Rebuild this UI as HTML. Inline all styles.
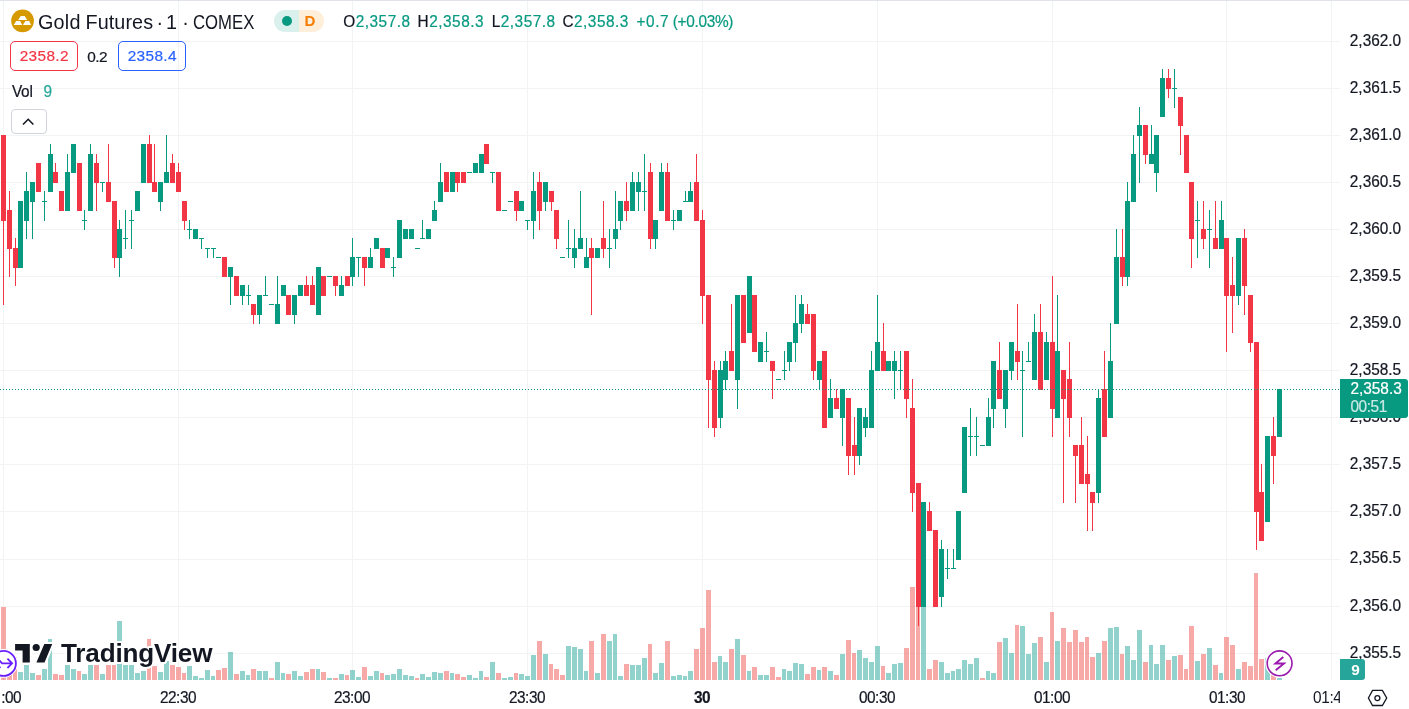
<!DOCTYPE html>
<html><head><meta charset="utf-8"><title>Gold Futures</title>
<style>
html,body{margin:0;padding:0;background:#fff}
body{width:1409px;height:709px;position:relative;overflow:hidden;font-family:"Liberation Sans",sans-serif;color:#131722}
.abs{position:absolute;white-space:nowrap}
.pl,.tl,.oh,.bx,#spr,#vol,#plab{-webkit-text-stroke:0.2px currentColor}
.pl,.tl,.oh,#vol,#plab div,.t48{transform:scaleY(1.07);transform-origin:50% 55%}
.bx span{display:inline-block}
.pl{position:absolute;left:1340px;width:69px;height:18px;line-height:18px;font-size:15.4px;letter-spacing:0px;text-align:left;padding-left:9.8px;box-sizing:border-box;white-space:nowrap}
.tl{position:absolute;top:689px;width:60px;height:18px;line-height:18px;font-size:15.4px;letter-spacing:-0.5px;text-align:center;white-space:nowrap}
#topb{position:absolute;left:0;top:0;width:1409px;height:1px;background:#e0e3eb}
.tt{position:absolute;top:10.6px;height:22px;line-height:22px;font-size:19.8px;white-space:nowrap}
#pill{left:274px;top:10px;width:50px;height:22px;border-radius:11px;overflow:hidden}
#pill .a{position:absolute;left:0;top:0;width:25px;height:22px;background:#daf0ec}
#pill .b{position:absolute;left:25px;top:0;width:25px;height:22px;background:#ffeeda;color:#f57c00;font-weight:bold;font-size:15px;line-height:22px;text-align:center;text-indent:-3px}
#pill .dot{position:absolute;left:8px;top:6px;width:10px;height:10px;border-radius:5px;background:#089981}
.oh{position:absolute;top:12.5px;height:18px;line-height:18px;font-size:15.4px;color:#089981;letter-spacing:0.5px;white-space:nowrap}
.oh i{font-style:normal;color:#131722}
.bx{position:absolute;top:41px;height:29.8px;box-sizing:border-box;border:1px solid;border-radius:5px;font-size:15.4px;line-height:28.6px;text-align:center;letter-spacing:0.35px;text-indent:0.3px}
#bid{left:10px;width:68px;border-color:#f23645;color:#f23645}
#ask{left:118px;width:68px;border-color:#2962ff;color:#2962ff}
#spr{left:87.3px;top:47.8px;font-size:15.4px;line-height:18px;letter-spacing:-0.6px}
#vol{left:12px;top:82.8px;font-size:15.4px;line-height:18px;letter-spacing:-0.3px}
#vol b{font-weight:normal;color:#26a69a;margin-left:11px}
#colb{position:absolute;left:11px;top:109px;width:35.6px;height:24.5px;box-sizing:border-box;border:1px solid #d1d4dc;border-radius:4px;background:transparent}
#plab{position:absolute;left:1340px;top:379px;width:68px;height:38.7px;background:#089981;border-radius:0 3px 3px 0;color:#fff;font-size:15.4px;letter-spacing:0px;padding-left:10.4px;box-sizing:border-box;white-space:nowrap}
#plab div{height:17px;line-height:17px;margin-top:1px}
#plab div+div{opacity:.78;margin-top:1px;letter-spacing:-0.4px}
#vlab{position:absolute;left:1340px;top:659px;width:25px;height:21px;background:#26a69a;border-radius:0 3px 3px 0;color:#fff;font-weight:bold;font-size:15.4px;line-height:21px;text-align:center;text-indent:6px}
</style></head><body>
<svg width="1409" height="709" viewBox="0 0 1409 709" style="position:absolute;left:0;top:0" shape-rendering="crispEdges">
<path d="M0 41.5H1340M0 88.5H1340M0 135.5H1340M0 182.5H1340M0 229.5H1340M0 276.5H1340M0 323.5H1340M0 370.5H1340M0 417.5H1340M0 464.5H1340M0 511.5H1340M0 559.5H1340M0 606.5H1340M0 653.5H1340M3.5 1V680M178.5 1V680M352.5 1V680M527.5 1V680M702.5 1V680M877.5 1V680M1052.5 1V680M1226.5 1V680M1331.5 1V680" stroke="#f2f4f4" stroke-width="1" fill="none"/>
<path d="M18 672h5v8h-5zM24 665h5v15h-5zM30 673h5v7h-5zM42 669h5v11h-5zM48 639h4v41h-4zM65 665h5v15h-5zM71 669h5v11h-5zM82 674h5v6h-5zM88 665h5v15h-5zM100 674h5v6h-5zM117 621h5v59h-5zM123 665h5v15h-5zM129 665h5v15h-5zM135 673h5v7h-5zM141 671h5v9h-5zM158 672h5v8h-5zM164 661h5v19h-5zM187 666h5v14h-5zM193 676h5v4h-5zM199 678h5v2h-5zM205 670h5v10h-5zM211 676h4v4h-4zM228 652h5v28h-5zM240 671h5v9h-5zM246 675h4v5h-4zM257 671h5v9h-5zM263 671h5v9h-5zM275 662h5v18h-5zM281 673h4v7h-4zM292 671h5v9h-5zM298 676h5v4h-5zM316 669h4v11h-4zM327 678h5v2h-5zM339 674h5v6h-5zM350 670h5v10h-5zM356 677h5v3h-5zM368 676h5v4h-5zM374 671h5v9h-5zM385 675h5v5h-5zM391 674h5v6h-5zM397 669h5v11h-5zM403 675h5v5h-5zM409 676h5v4h-5zM420 674h5v6h-5zM426 677h5v3h-5zM432 672h5v8h-5zM438 673h5v7h-5zM450 673h4v7h-4zM467 675h5v5h-5zM473 678h5v2h-5zM479 671h4v9h-4zM490 662h5v18h-5zM502 678h5v2h-5zM508 677h5v3h-5zM519 674h5v6h-5zM525 676h5v4h-5zM531 655h5v25h-5zM543 654h5v26h-5zM566 646h5v34h-5zM572 647h5v33h-5zM578 649h5v31h-5zM584 671h4v9h-4zM595 673h5v7h-5zM607 641h5v39h-5zM613 634h4v46h-4zM618 676h5v4h-5zM630 665h5v15h-5zM636 665h5v15h-5zM642 658h5v22h-5zM653 673h5v7h-5zM659 663h5v17h-5zM671 676h5v4h-5zM677 675h5v5h-5zM683 676h4v4h-4zM688 671h5v9h-5zM718 656h4v24h-4zM723 662h5v18h-5zM735 639h5v41h-5zM747 671h4v9h-4zM758 675h5v5h-5zM764 675h5v5h-5zM782 669h4v11h-4zM787 671h5v9h-5zM793 663h5v17h-5zM799 664h5v16h-5zM817 670h4v10h-4zM828 671h5v9h-5zM840 654h5v26h-5zM857 650h5v30h-5zM863 658h5v22h-5zM869 662h5v18h-5zM875 646h5v34h-5zM886 673h5v7h-5zM892 664h5v16h-5zM898 663h5v17h-5zM921 580h5v100h-5zM939 662h5v18h-5zM945 673h5v7h-5zM951 671h4v9h-4zM956 669h5v11h-5zM962 660h5v20h-5zM968 664h5v16h-5zM974 658h5v22h-5zM986 671h4v9h-4zM991 673h5v7h-5zM1003 638h5v42h-5zM1009 653h5v27h-5zM1020 626h5v54h-5zM1026 654h5v26h-5zM1032 643h5v37h-5zM1044 662h5v18h-5zM1055 641h5v39h-5zM1096 653h5v27h-5zM1108 628h5v52h-5zM1114 627h5v53h-5zM1125 646h5v34h-5zM1131 660h5v20h-5zM1137 630h5v50h-5zM1149 645h4v35h-4zM1154 664h5v16h-5zM1160 645h5v35h-5zM1172 656h5v24h-5zM1195 661h5v19h-5zM1207 648h5v32h-5zM1219 673h4v7h-4zM1236 669h5v11h-5zM1265 658h5v22h-5zM1277 678h5v2h-5z" fill="#26a69a" fill-opacity="0.5"/>
<path d="M1 607h5v73h-5zM7 674h5v6h-5zM13 657h4v23h-4zM36 675h5v5h-5zM53 674h5v6h-5zM59 675h5v5h-5zM77 671h4v9h-4zM94 665h5v15h-5zM106 665h5v15h-5zM112 665h4v15h-4zM147 639h4v41h-4zM152 666h5v14h-5zM170 665h5v15h-5zM176 667h5v13h-5zM182 673h4v7h-4zM216 670h5v10h-5zM222 668h5v12h-5zM234 674h5v6h-5zM251 669h5v11h-5zM269 678h5v2h-5zM286 674h5v6h-5zM304 672h5v8h-5zM310 669h5v11h-5zM321 672h5v8h-5zM333 678h5v2h-5zM345 675h4v5h-4zM362 667h5v13h-5zM380 673h4v7h-4zM415 678h4v2h-4zM444 671h5v9h-5zM455 674h5v6h-5zM461 677h5v3h-5zM484 677h5v3h-5zM496 673h5v7h-5zM514 673h4v7h-4zM537 641h5v39h-5zM549 664h4v16h-4zM554 669h5v11h-5zM560 675h5v5h-5zM589 641h5v39h-5zM601 634h5v46h-5zM624 664h5v16h-5zM648 644h4v36h-4zM665 641h5v39h-5zM694 649h5v31h-5zM700 628h5v52h-5zM706 590h5v90h-5zM712 662h5v18h-5zM729 649h5v31h-5zM741 655h5v25h-5zM752 667h5v13h-5zM770 667h5v13h-5zM776 677h5v3h-5zM805 674h5v6h-5zM811 667h5v13h-5zM822 667h5v13h-5zM834 675h5v5h-5zM846 640h5v40h-5zM852 653h4v27h-4zM881 666h4v14h-4zM904 648h5v32h-5zM910 587h5v93h-5zM916 577h4v103h-4zM927 669h5v11h-5zM933 660h5v20h-5zM980 678h5v2h-5zM997 642h5v38h-5zM1015 625h4v55h-4zM1038 637h5v43h-5zM1050 612h4v68h-4zM1061 628h5v52h-5zM1067 642h5v38h-5zM1073 630h5v50h-5zM1079 642h5v38h-5zM1085 637h4v43h-4zM1090 657h5v23h-5zM1102 641h5v39h-5zM1120 654h4v26h-4zM1143 662h5v18h-5zM1166 660h5v20h-5zM1178 655h5v25h-5zM1184 669h4v11h-4zM1189 626h5v54h-5zM1201 654h5v26h-5zM1213 665h5v15h-5zM1224 637h5v43h-5zM1230 645h5v35h-5zM1242 662h5v18h-5zM1248 666h5v14h-5zM1254 573h4v107h-4zM1259 659h5v21h-5zM1271 674h5v6h-5z" fill="#ef5350" fill-opacity="0.5"/>
<path d="M1 135h5v86h-5zM3 135h1v170h-1zM7 210h5v39h-5zM9 191h1v86h-1zM13 248h5v20h-5zM15 238h1v48h-1zM36 163h5v29h-5zM53 172h5v11h-5zM55 163h1v20h-1zM59 191h5v20h-5zM77 163h5v48h-5zM94 163h5v20h-5zM96 154h1v57h-1zM106 182h5v20h-5zM108 144h1v58h-1zM112 201h5v57h-5zM114 201h1v67h-1zM147 144h5v39h-5zM149 135h1v48h-1zM152 182h5v10h-5zM154 144h1v48h-1zM170 163h5v20h-5zM172 154h1v29h-1zM176 172h5v20h-5zM178 163h1v29h-1zM182 201h5v20h-5zM184 201h1v29h-1zM222 257h5v20h-5zM234 276h5v20h-5zM251 304h5v11h-5zM253 304h1v20h-1zM286 295h5v20h-5zM304 285h5v11h-5zM306 276h1v20h-1zM310 285h5v20h-5zM312 276h1v29h-1zM321 276h5v20h-5zM333 276h5v10h-5zM335 276h1v20h-1zM345 276h5v10h-5zM362 257h5v11h-5zM364 257h1v29h-1zM380 248h5v20h-5zM444 172h5v20h-5zM455 172h5v11h-5zM457 172h1v20h-1zM461 172h5v11h-5zM484 144h5v20h-5zM496 172h5v39h-5zM514 191h5v20h-5zM516 191h1v30h-1zM537 182h5v29h-5zM539 172h1v58h-1zM549 191h5v11h-5zM551 191h1v20h-1zM554 210h5v29h-5zM556 210h1v39h-1zM589 248h5v10h-5zM591 238h1v77h-1zM601 238h5v11h-5zM603 201h1v57h-1zM624 201h5v10h-5zM626 182h1v39h-1zM648 172h5v67h-5zM650 163h1v86h-1zM665 172h5v49h-5zM667 163h1v58h-1zM694 182h5v39h-5zM696 154h1v67h-1zM700 220h5v76h-5zM702 210h1v114h-1zM706 295h5v85h-5zM708 295h1v133h-1zM712 370h5v58h-5zM714 361h1v76h-1zM729 351h5v20h-5zM731 304h1v67h-1zM741 295h5v48h-5zM752 295h5v57h-5zM770 361h5v10h-5zM772 361h1v38h-1zM805 314h5v10h-5zM807 304h1v20h-1zM811 314h5v57h-5zM813 314h1v66h-1zM822 351h5v77h-5zM834 398h5v11h-5zM836 389h1v20h-1zM846 398h5v58h-5zM848 398h1v77h-1zM852 445h5v11h-5zM854 417h1v58h-1zM881 351h5v20h-5zM883 323h1v48h-1zM904 351h5v48h-5zM906 351h1v67h-1zM910 408h5v85h-5zM912 379h1v133h-1zM916 483h5v124h-5zM918 483h1v143h-1zM927 511h5v20h-5zM929 502h1v29h-1zM933 530h5v77h-5zM997 370h5v29h-5zM999 342h1v57h-1zM1015 351h5v11h-5zM1017 304h1v76h-1zM1038 332h5v58h-5zM1040 304h1v86h-1zM1050 342h5v67h-5zM1052 276h1v161h-1zM1061 370h5v29h-5zM1063 370h1v133h-1zM1067 379h5v39h-5zM1069 342h1v95h-1zM1073 445h5v11h-5zM1075 445h1v58h-1zM1079 445h5v39h-5zM1081 417h1v67h-1zM1085 474h5v10h-5zM1087 436h1v95h-1zM1090 492h5v11h-5zM1092 492h1v39h-1zM1102 389h5v48h-5zM1104 351h1v86h-1zM1120 257h5v20h-5zM1122 229h1v57h-1zM1143 125h5v30h-5zM1145 125h1v39h-1zM1166 78h5v11h-5zM1168 69h1v29h-1zM1178 97h5v29h-5zM1180 97h1v58h-1zM1184 135h5v38h-5zM1189 182h5v57h-5zM1191 182h1v86h-1zM1201 229h5v10h-5zM1203 201h1v48h-1zM1213 238h5v11h-5zM1215 201h1v48h-1zM1224 238h5v58h-5zM1226 238h1v114h-1zM1230 285h5v11h-5zM1232 257h1v76h-1zM1242 238h5v48h-5zM1244 229h1v86h-1zM1248 295h5v48h-5zM1250 295h1v57h-1zM1254 342h5v170h-5zM1256 342h1v208h-1zM1259 492h5v49h-5zM1261 464h1v77h-1zM1271 436h5v20h-5zM1273 417h1v67h-1z" fill="#f23645"/>
<path d="M18 201h5v67h-5zM24 191h5v30h-5zM26 172h1v67h-1zM30 182h5v20h-5zM32 182h1v57h-1zM42 201h5v1h-5zM44 191h1v30h-1zM48 154h5v38h-5zM50 144h1v48h-1zM65 172h5v39h-5zM67 154h1v57h-1zM71 144h5v29h-5zM82 220h5v1h-5zM84 210h1v20h-1zM88 154h5v57h-5zM90 144h1v67h-1zM100 182h5v1h-5zM102 182h1v10h-1zM117 229h5v29h-5zM119 220h1v57h-1zM123 238h5v1h-5zM125 210h1v39h-1zM129 220h5v1h-5zM131 210h1v39h-1zM135 191h5v20h-5zM141 144h5v39h-5zM158 182h5v20h-5zM160 182h1v29h-1zM164 172h5v11h-5zM166 135h1v48h-1zM187 229h5v1h-5zM189 220h1v19h-1zM193 229h5v10h-5zM199 238h5v1h-5zM201 238h1v11h-1zM205 248h5v1h-5zM207 248h1v10h-1zM211 248h5v1h-5zM213 248h1v10h-1zM216 257h5v1h-5zM228 267h5v10h-5zM230 267h1v38h-1zM240 285h5v11h-5zM242 285h1v20h-1zM246 295h5v1h-5zM248 285h1v20h-1zM257 295h5v20h-5zM259 295h1v29h-1zM263 295h5v1h-5zM265 276h1v20h-1zM269 304h5v1h-5zM275 304h5v20h-5zM277 276h1v48h-1zM281 285h5v11h-5zM292 295h5v20h-5zM294 295h1v29h-1zM298 285h5v11h-5zM316 267h5v48h-5zM327 276h5v1h-5zM339 285h5v11h-5zM341 276h1v20h-1zM350 257h5v20h-5zM352 238h1v48h-1zM356 257h5v1h-5zM358 257h1v20h-1zM368 257h5v11h-5zM370 248h1v20h-1zM374 238h5v11h-5zM385 248h5v10h-5zM391 267h5v1h-5zM393 257h1v20h-1zM397 220h5v38h-5zM403 229h5v10h-5zM409 229h5v10h-5zM415 248h5v1h-5zM420 238h5v1h-5zM422 220h1v19h-1zM426 229h5v10h-5zM432 210h5v11h-5zM434 201h1v20h-1zM438 182h5v20h-5zM440 163h1v39h-1zM450 172h5v20h-5zM467 172h5v1h-5zM473 163h5v10h-5zM479 154h5v19h-5zM490 172h5v1h-5zM492 172h1v11h-1zM502 210h5v1h-5zM508 201h5v1h-5zM519 201h5v10h-5zM525 220h5v1h-5zM527 220h1v10h-1zM531 191h5v30h-5zM533 172h1v67h-1zM543 182h5v20h-5zM545 182h1v29h-1zM560 257h5v1h-5zM566 248h5v1h-5zM568 220h1v38h-1zM572 248h5v10h-5zM574 229h1v39h-1zM578 238h5v11h-5zM580 191h1v58h-1zM584 257h5v11h-5zM586 238h1v30h-1zM595 248h5v10h-5zM607 248h5v1h-5zM609 229h1v39h-1zM613 229h5v10h-5zM615 191h1v58h-1zM618 201h5v20h-5zM620 201h1v29h-1zM630 182h5v29h-5zM632 172h1v39h-1zM636 182h5v10h-5zM638 172h1v39h-1zM642 191h5v1h-5zM644 154h1v57h-1zM653 220h5v19h-5zM655 220h1v29h-1zM659 172h5v39h-5zM661 163h1v48h-1zM671 220h5v1h-5zM673 210h1v20h-1zM677 210h5v11h-5zM683 201h5v1h-5zM685 191h1v11h-1zM688 191h5v11h-5zM690 182h1v20h-1zM718 370h5v48h-5zM720 361h1v67h-1zM723 361h5v19h-5zM725 351h1v39h-1zM735 295h5v85h-5zM737 295h1v114h-1zM747 276h5v57h-5zM758 342h5v20h-5zM764 351h5v1h-5zM766 332h1v30h-1zM776 379h5v1h-5zM782 370h5v1h-5zM784 351h1v29h-1zM787 342h5v20h-5zM789 342h1v29h-1zM793 323h5v20h-5zM795 295h1v67h-1zM799 304h5v20h-5zM801 295h1v38h-1zM817 361h5v19h-5zM819 361h1v29h-1zM828 398h5v20h-5zM830 379h1v39h-1zM840 389h5v29h-5zM842 389h1v57h-1zM857 408h5v48h-5zM859 408h1v57h-1zM863 417h5v11h-5zM865 408h1v29h-1zM869 370h5v58h-5zM871 351h1v77h-1zM875 342h5v29h-5zM877 295h1v76h-1zM886 361h5v10h-5zM892 361h5v10h-5zM894 351h1v48h-1zM898 370h5v1h-5zM900 351h1v39h-1zM921 502h5v105h-5zM939 549h5v48h-5zM941 540h1v67h-1zM945 568h5v1h-5zM947 549h1v30h-1zM951 568h5v1h-5zM953 549h1v20h-1zM956 511h5v49h-5zM962 427h5v66h-5zM968 436h5v1h-5zM970 408h1v48h-1zM974 436h5v1h-5zM976 417h1v39h-1zM980 445h5v1h-5zM986 417h5v29h-5zM988 398h1v48h-1zM991 361h5v48h-5zM993 361h1v67h-1zM1003 370h5v39h-5zM1005 370h1v58h-1zM1009 342h5v29h-5zM1011 342h1v38h-1zM1020 370h5v1h-5zM1022 351h1v86h-1zM1026 361h5v1h-5zM1028 342h1v20h-1zM1032 332h5v48h-5zM1034 314h1v66h-1zM1044 342h5v38h-5zM1046 332h1v48h-1zM1055 351h5v67h-5zM1057 295h1v123h-1zM1096 398h5v95h-5zM1098 389h1v114h-1zM1108 361h5v57h-5zM1110 323h1v95h-1zM1114 257h5v67h-5zM1116 229h1v95h-1zM1125 201h5v76h-5zM1127 182h1v104h-1zM1131 154h5v48h-5zM1133 135h1v67h-1zM1137 125h5v11h-5zM1139 107h1v76h-1zM1149 154h5v10h-5zM1151 125h1v39h-1zM1154 135h5v38h-5zM1156 135h1v57h-1zM1160 78h5v39h-5zM1162 69h1v48h-1zM1172 88h5v1h-5zM1174 69h1v39h-1zM1195 220h5v1h-5zM1197 201h1v57h-1zM1207 229h5v1h-5zM1209 210h1v58h-1zM1219 220h5v29h-5zM1221 201h1v48h-1zM1236 238h5v58h-5zM1238 238h1v67h-1zM1265 436h5v86h-5zM1277 389h5v48h-5z" fill="#089981"/>
<path d="M0 389.5H1340" stroke="#089981" stroke-width="1" stroke-dasharray="1 2" fill="none"/>
</svg>
<div id="topb"></div>
<svg width="1409" height="709" viewBox="0 0 1409 709" style="position:absolute;left:0;top:0">
<circle cx="22.55" cy="20.9" r="11.35" fill="#d69a00"/>
<path d="M20.7 16h4l2.4 3.9h-8.9zM16.2 21.1h3.8l2.3 3.9h-8.6zM25.4 21.1h3.8l1.9 3.9h-8.2z" fill="#fff"/>
<path d="M23 124.5l5.2-5.2 5.2 5.2" fill="none" stroke="#131722" stroke-width="1.6"/>
<g>
<circle cx="3.4" cy="663.4" r="12.9" fill="#fff" stroke="#fff" stroke-width="3"/>
<circle cx="3.4" cy="663.4" r="12.5" fill="#fff" stroke="#6a1fff" stroke-width="1.8"/>
<path d="M-1.5 659.6l3.6 3.7h9.3M7.4 658.6l4.7 4.7-4.7 4.7" fill="none" stroke="#6a1fff" stroke-width="1.8"/><circle cx="0" cy="667.3" r="0.9" fill="#6a1fff"/>
</g>
<g>
<circle cx="1279.6" cy="663.3" r="12.9" fill="#fff" stroke="#fff" stroke-width="3"/>
<circle cx="1279.6" cy="663.3" r="12.4" fill="#fff" stroke="#9a1bad" stroke-width="1.6"/>
<path d="M1283.3 656.9L1275.4 663.5H1284L1275.7 670.2" fill="none" stroke="#9a1bad" stroke-width="1.9" stroke-linejoin="miter"/>
</g>
<g fill="#131722" stroke="#fff" stroke-width="4" paint-order="stroke" stroke-linejoin="round">
<path d="M15.1 644h14.7v18.4h-7.2v-11.8h-7.5z"/>
<circle cx="36.2" cy="647.5" r="3.6"/>
<path d="M44.3 644h7.9l-7.7 18.4h-8.1z"/>
<text x="61" y="662.2" font-family="Liberation Sans, sans-serif" font-weight="bold" font-size="26.1" letter-spacing="-0.18">TradingView</text>
</g>
<g fill="none" stroke="#131722" stroke-width="1.3">
<path d="M1368.4 698l4.15-7.55h9.8l4.35 7.55-4.35 7.5h-9.8z"/>
<circle cx="1377.4" cy="698.1" r="2.5"/>
</g>
</svg>
<div class="tt" style="left:38px;letter-spacing:0.2px">Gold</div><div class="tt" style="left:85.5px;letter-spacing:0.08px">Futures</div><div class="tt" style="left:156.6px">·</div><div class="tt" style="left:166px">1</div><div class="tt" style="left:182.3px">·</div><div class="tt" style="left:192.8px;transform:scaleX(0.845);transform-origin:0 0">COMEX</div>
<div class="abs" id="pill"><div class="a"></div><div class="dot"></div><div class="b">D</div></div>
<div class="oh" style="left:343.2px"><i>O</i>2,357.8</div><div class="oh" style="left:417.6px"><i>H</i>2,358.3</div><div class="oh" style="left:491.7px"><i>L</i>2,357.8</div><div class="oh" style="left:562.4px"><i>C</i>2,358.3</div><div class="oh" style="left:636.6px;letter-spacing:0.5px">+0.7</div><div class="oh" style="left:672.7px;letter-spacing:-0.3px">(+0.03%)</div>
<div class="bx" id="bid"><span>2358.2</span></div>
<div class="abs" id="spr">0.2</div>
<div class="bx" id="ask"><span>2358.4</span></div>
<div class="abs" id="vol">Vol<b>9</b></div>
<div id="colb"></div>
<div class="pl" style="top:31.5px">2,362.0</div><div class="pl" style="top:78.6px">2,361.5</div><div class="pl" style="top:125.7px">2,361.0</div><div class="pl" style="top:172.8px">2,360.5</div><div class="pl" style="top:219.8px">2,360.0</div><div class="pl" style="top:266.9px">2,359.5</div><div class="pl" style="top:314.0px">2,359.0</div><div class="pl" style="top:361.1px">2,358.5</div><div class="pl" style="top:408.2px">2,358.0</div><div class="pl" style="top:455.3px">2,357.5</div><div class="pl" style="top:502.4px">2,357.0</div><div class="pl" style="top:549.4px">2,356.5</div><div class="pl" style="top:596.5px">2,356.0</div><div class="pl" style="top:643.6px">2,355.5</div>
<div id="plab"><div>2,358.3</div><div>00:51</div></div>
<div id="vlab">9</div>
<div class="tl" style="left:1.2px;width:auto;text-align:left">:00</div>
<div class="tl" style="left:148px">22:30</div><div class="tl" style="left:322px">23:00</div><div class="tl" style="left:497px">23:30</div><div class="tl" style="left:847px">00:30</div><div class="tl" style="left:1022px">01:00</div><div class="tl" style="left:1197px">01:30</div>
<div class="tl" style="left:672px;font-weight:bold">30</div>
<div class="abs t48" style="left:1313px;top:689px;width:27px;overflow:hidden;height:18px;line-height:18px;font-size:15.4px;letter-spacing:-0.35px">01:48</div>
</body></html>
